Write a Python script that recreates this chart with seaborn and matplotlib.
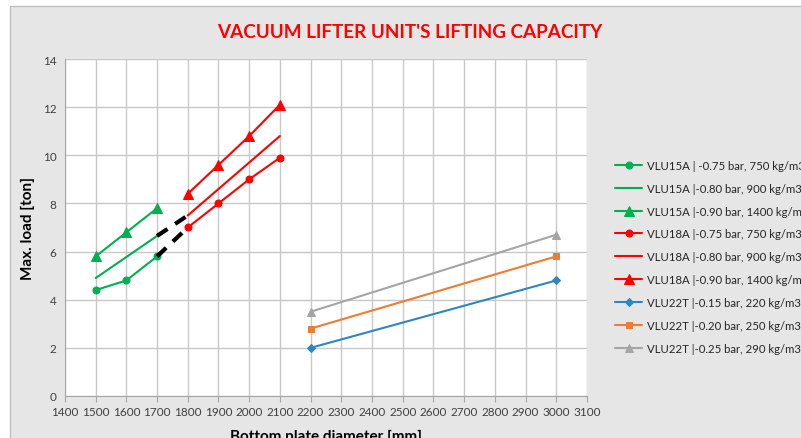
import numpy as np
import pandas as pd
import matplotlib
matplotlib.use('Agg')
import matplotlib.pyplot as plt
import seaborn as sns
from matplotlib.patches import Rectangle

# series data
d15a = [1500, 1600, 1700]
vlu15a_075 = [4.4, 4.8, 5.8]
d15a_080 = [1500, 1700]
vlu15a_080 = [4.9, 6.65]
vlu15a_090 = [5.8, 6.8, 7.8]

d18a = [1800, 1900, 2000, 2100]
vlu18a_075 = [7.0, 8.0, 9.0, 9.9]
d18a_080 = [1800, 2100]
vlu18a_080 = [7.5, 10.8]
vlu18a_090 = [8.4, 9.6, 10.8, 12.1]

d22t = [2200, 3000]
vlu22t_015 = [2.0, 4.8]
vlu22t_020 = [2.8, 5.8]
vlu22t_025 = [3.5, 6.7]

# black dashed bridges between 15A and 18A
bridge_x = [1700, 1800]
bridge_075 = [5.8, 7.0]
bridge_080 = [6.65, 7.5]

labels = ['VLU15A | -0.75 bar, 750 kg/m3',
          'VLU15A |-0.80 bar, 900 kg/m3',
          'VLU15A |-0.90 bar, 1400 kg/m3',
          'VLU18A |-0.75 bar, 750 kg/m3',
          'VLU18A |-0.80 bar, 900 kg/m3',
          'VLU18A |-0.90 bar, 1400 kg/m3',
          'VLU22T |-0.15 bar, 220 kg/m3',
          'VLU22T |-0.20 bar, 250 kg/m3',
          'VLU22T |-0.25 bar, 290 kg/m3']

green = '#00b050'
red = '#ff0000'
blue = '#2e86c1'
orange = '#ed7d31'
grey = '#a5a5a5'

series = [
    (d15a, vlu15a_075, green, 'o', 5),
    (d15a_080, vlu15a_080, green, None, 0),
    (d15a, vlu15a_090, green, '^', 7),
    (d18a, vlu18a_075, red, 'o', 5),
    (d18a_080, vlu18a_080, red, None, 0),
    (d18a, vlu18a_090, red, '^', 7),
    (d22t, vlu22t_015, blue, 'D', 4),
    (d22t, vlu22t_020, orange, 's', 5),
    (d22t, vlu22t_025, grey, '^', 6),
]

sns.set_style('white')
plt.rcParams['font.family'] = ['Lato', 'DejaVu Sans']

bg = '#e6e6e6'
fig = plt.figure(figsize=(8.01, 4.39), dpi=100, facecolor='white')
# grey chart area with thin white margin top/left
bgrect = Rectangle((10 / 801, -0.01), 1.0, 0.01 + 432 / 439,
                   transform=fig.transFigure, facecolor=bg,
                   edgecolor='#bfbfbf', linewidth=1, zorder=-10)
fig.add_artist(bgrect)
ax = fig.add_axes([0.0811, 0.0957, 0.6517, 0.7676])
ax.set_zorder(5)
ax.set_facecolor('white')

for (x, y, c, m, ms), lab in zip(series, labels):
    sns.lineplot(x=x, y=y, ax=ax, color=c, marker=m, markersize=ms,
                 markeredgecolor=c, linewidth=1.5, label=lab)

for y in [bridge_075, bridge_080]:
    sns.lineplot(x=bridge_x, y=y, ax=ax, color='black', linewidth=3,
                 linestyle=(0, (3, 2.2)), legend=False)

ax.set_xlim(1400, 3100)
ax.set_ylim(0, 14)
ax.set_xticks(np.arange(1400, 3101, 100))
ax.set_yticks(np.arange(0, 15, 2))
ax.grid(True, color='#c8c8c8', linewidth=1)
ax.set_axisbelow(True)
for s in ['top', 'right']:
    ax.spines[s].set_visible(False)
for s in ['left', 'bottom']:
    ax.spines[s].set_color('#a6a6a6')
ax.tick_params(axis='both', labelsize=8.5, colors='#404040', length=4,
               color='#a6a6a6', direction='out')
ax.tick_params(axis='y', length=0, pad=6)
ax.tick_params(axis='x', bottom=True)

ax.set_xlabel('Bottom plate diameter [mm]', fontsize=11, fontweight='bold',
              color='black', labelpad=8)
ax.set_ylabel('Max. load [ton]', fontsize=11, fontweight='bold',
              color='black', labelpad=6)

fig.text(0.512, 0.927, "VACUUM LIFTER UNIT'S LIFTING CAPACITY", ha='center',
         va='center', fontsize=13.6, fontweight='bold', color='#ff0000')

leg = ax.legend(loc='upper left', bbox_to_anchor=(1.045, 0.715), frameon=False,
                fontsize=8.2, handlelength=2.4, labelspacing=1.05,
                handletextpad=0.4, borderaxespad=0)

fig.savefig('out.png', dpi=100, facecolor='white')
